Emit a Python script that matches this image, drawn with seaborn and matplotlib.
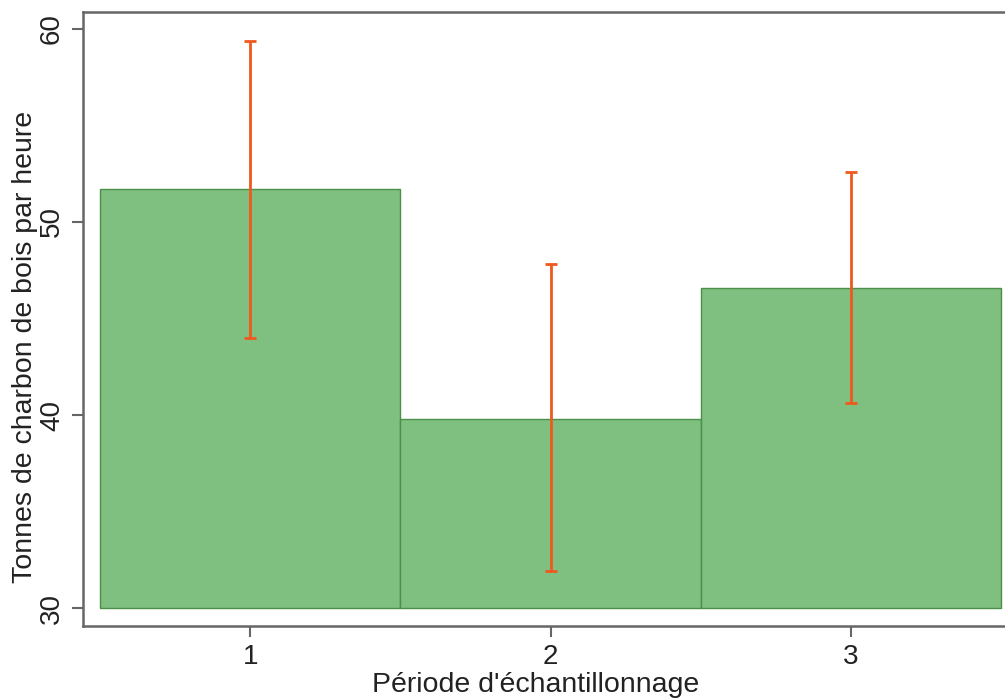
import numpy as np
import pandas as pd
import matplotlib
matplotlib.use("Agg")
import matplotlib.pyplot as plt
import seaborn as sns

periods = ["1", "2", "3"]
means = [51.7, 39.8, 46.6]
err_low = [44.0, 31.9, 40.6]
err_high = [59.4, 47.8, 52.6]
baseline = 30
yticks = [30, 40, 50, 60]

sns.set_style("white")
plt.rcParams['font.family'] = ['Liberation Sans', 'DejaVu Sans']

fig = plt.figure(figsize=(10.05, 6.98), dpi=100)
ax = fig.add_axes([0.0826, 0.1032, 0.9174, 0.8796])

df = pd.DataFrame({"period": periods, "height": np.array(means) - baseline})
sns.barplot(data=df, x="period", y="height", bottom=baseline, width=1.0,
            color="#7fbf7f", saturation=1, edgecolor="#4a8f4a", linewidth=1.0, ax=ax)

xs = np.arange(len(periods))
m = np.array(means)
yerr = np.vstack([m - np.array(err_low), np.array(err_high) - m])
ax.errorbar(xs, m, yerr=yerr, fmt="none", ecolor="#f0581e", elinewidth=2,
            capsize=4.5, capthick=2, zorder=5)

ax.set_xlim(-0.557, 2.513)
ax.set_ylim(29.07, 60.88)
ax.set_yticks(yticks)
ax.set_yticklabels([str(t) for t in yticks], rotation=90, va="center")
ax.tick_params(axis="both", labelsize=20, colors="#222222", length=8, width=1.5,
               direction="out", color="#666666", bottom=True, left=True)
ax.tick_params(axis="y", pad=5)
ax.tick_params(axis="x", pad=5)
ax.set_xlabel("Période d'échantillonnage", fontsize=20.5, color="#222222", va="top")
ax.set_ylabel("Tonnes de charbon de bois par heure", fontsize=20.5, color="#222222", va="center")
ax.xaxis.set_label_coords(0.491, -0.0745)
ax.yaxis.set_label_coords(-0.063, 0.455)

for s in ["left", "bottom", "top"]:
    ax.spines[s].set_color("#666666")
    ax.spines[s].set_linewidth(1.8)
ax.spines["right"].set_visible(False)

fig.savefig("out.png", dpi=100)
